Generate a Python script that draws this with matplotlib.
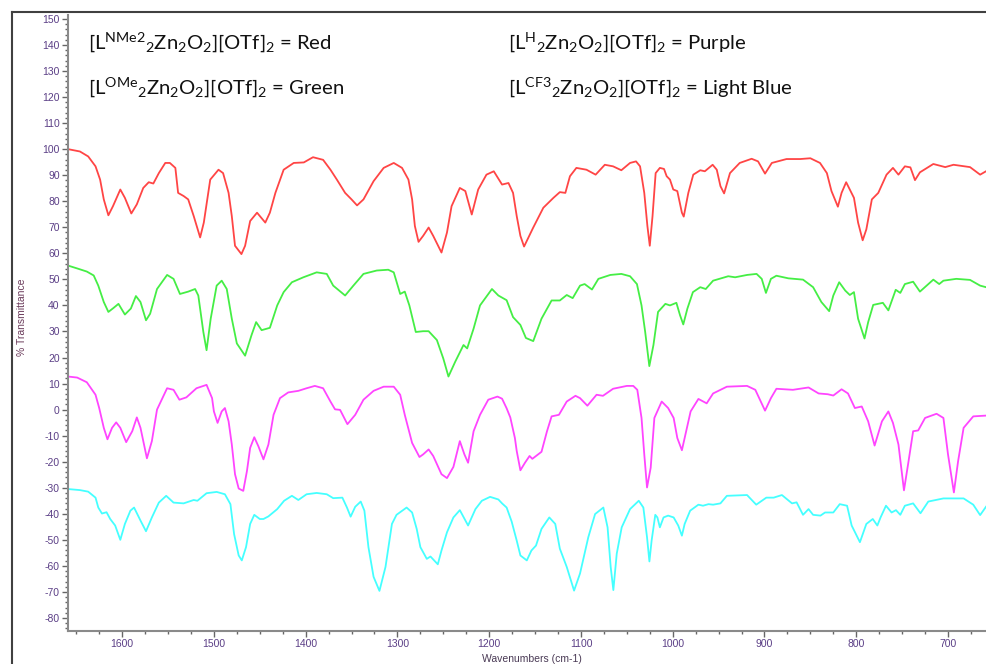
import matplotlib
matplotlib.use("Agg")
import matplotlib.pyplot as plt
from matplotlib.ticker import MultipleLocator
from matplotlib.lines import Line2D

plt.rcParams['axes.unicode_minus'] = False
plt.rcParams['mathtext.default'] = 'regular'

# ---------------- data (wavenumber cm-1, % transmittance) ----------------
red_wn = [1659, 1646, 1637, 1629, 1624, 1620, 1615, 1610, 1602, 1597, 1590, 1584, 1577, 1571, 1566, 1560,
          1553, 1548, 1542, 1539, 1533, 1528, 1522, 1515, 1511, 1504, 1495, 1490, 1484, 1480.5, 1477, 1470,
          1466, 1460.5, 1453, 1444, 1439, 1433, 1424, 1413, 1402, 1392, 1381, 1373, 1366, 1357, 1350, 1344,
          1337, 1326, 1315, 1304, 1295, 1288, 1284, 1281, 1277, 1272, 1266, 1261, 1252, 1246, 1241, 1232,
          1226, 1219, 1212, 1203, 1195, 1186, 1179, 1174, 1170, 1166, 1162, 1152, 1141, 1130, 1123, 1117,
          1112, 1105, 1094, 1084, 1074, 1065, 1056, 1046.5, 1040, 1035.6, 1031, 1027.6, 1025, 1022, 1018.6,
          1014, 1009.5, 1006.6, 1003, 999.4, 995, 990, 988, 983, 977.6, 970, 965, 956.5, 952, 948, 944,
          937.6, 927, 914, 907, 899.4, 892, 876, 861, 850, 839.5, 832, 827, 820, 816, 811, 807, 802.5, 798,
          793, 789, 783, 776, 767, 760, 754, 747, 741, 736, 730.6, 716, 703, 694, 676, 665, 658.6]
red_t = [100, 99.1, 97.2, 93.4, 88.3, 80.7, 74.6, 78.1, 84.5, 81.3, 75.3, 78.8, 85.1, 87.3, 86.8, 90.8,
         94.7, 94.7, 92.8, 83.2, 82, 80.7, 74.3, 66.1, 71.8, 88.3, 92.1, 90.8, 83.2, 74.3, 62.9, 59.7,
         62.9, 72.4, 75.6, 71.8, 75.6, 83.2, 92.1, 94.7, 94.9, 96.9, 95.9, 92.1, 88.3, 83.2, 80.7, 78.4,
         80.7, 87.7, 92.8, 94.7, 92.8, 88.3, 80.7, 70.5, 64.4, 66.7, 69.9, 66.7, 60.3, 68, 78.1, 85.1,
         83.9, 74.9, 84.5, 90.2, 91.5, 86.4, 87, 83.2, 74.3, 66.7, 62.6, 69.9, 77.5, 81.3, 83.5, 83.2,
         89.6, 92.8, 92.1, 90.2, 94, 93.4, 91.9, 94.7, 95.3, 93.4, 83.2, 70.5, 62.9, 74.3, 90.8,
         92.8, 92.4, 89.6, 88.3, 84.5, 83.9, 75.6, 74.1, 83.2, 90.2, 91.9, 91.5, 94, 92.1, 85.8, 83,
         90.8, 94.7, 96.3, 95.3, 90.6, 94.7, 96.2, 96.2, 96.5, 94.7, 90.8, 83.9, 77.9, 83.2, 87.3, 84.5, 81.3, 71.8,
         65, 69.2, 80.7, 83.2, 90.2, 92.8, 90.2, 93.4, 93, 88.1, 91.1, 94.3, 93.1, 94, 93.1, 90.2, 91.5]

green_wn = [1659, 1649, 1638.5, 1631, 1626, 1620, 1615, 1609.5, 1604, 1597, 1590.5, 1585, 1580, 1574, 1569.5,
            1562, 1551, 1544, 1537, 1528, 1520.5, 1517, 1511.5, 1508, 1503.5, 1497, 1491.5, 1486, 1480.5,
            1475, 1466, 1459, 1454, 1448, 1439, 1431, 1424, 1415, 1402.5, 1388, 1377, 1370, 1357, 1348,
            1337, 1322.5, 1310, 1304, 1297, 1292, 1287, 1280, 1272, 1266, 1257, 1250, 1244.4, 1237, 1228,
            1224, 1217, 1210, 1197, 1190, 1181, 1174, 1166, 1160, 1152, 1143, 1132, 1123, 1115.5, 1109,
            1101, 1096, 1088, 1081, 1068, 1056, 1046.5, 1039, 1034, 1030, 1025.5, 1021, 1016, 1008, 1003,
            996, 992, 988.5, 984, 978, 970, 964, 956, 939.5, 932, 919, 908.6, 903, 898.4, 893, 887, 874,
            858, 847, 838, 829.5, 825, 818.6, 812, 807, 802.5, 798, 791, 787, 781.5, 771, 765, 757, 752,
            747, 738, 730.6, 716, 709.6, 705, 691, 676, 665, 658.6]
green_t = [55.3, 54.2, 53, 51.5, 47.6, 41.3, 37.5, 39, 40.6, 36.5, 38.8, 43.6, 41.3, 34.3, 36.8,
           46.3, 51.7, 50.2, 44.4, 45.3, 46.3, 43.8, 29.8, 22.8, 34.9, 47.6, 49.5, 46.3, 34.9,
           25.4, 20.7, 28.6, 33.6, 30.5, 31.4, 40, 45.1, 48.9, 50.8, 52.7, 52.1, 47.6, 43.8, 47.6,
           52.1, 53.4, 53.7, 52.7, 44.4, 45.3, 40, 29.8, 30.1, 30.1, 26.7, 19.6, 12.7, 18.4, 24.8,
           23.5, 31.1, 40, 46.3, 43.8, 42, 35.5, 32.5, 27.5, 26.3, 34.9, 41.9, 41.9, 44, 42.8,
           47.6, 48.2, 46.1, 50.2, 51.7, 52.1, 51.2, 48.2, 40, 29.8, 16.7, 24.8, 37.5, 40.6, 40,
           41, 36.2, 32.7, 38.8, 45.1, 47, 46.3, 49.5, 51.2, 50.8, 51.7, 52.1, 50.2, 44.8, 50.2, 51.4, 50.4,
           49.9, 47, 41.3, 37.8, 43.8, 48.9, 45.7, 44, 45.1, 34.9, 27.3, 33.6, 40.2, 41, 38.1, 46, 44.8,
           48.2, 49.1, 45.3, 49.9, 48.2, 49.5, 50.2, 49.8, 47.6, 47]

purple_wn = [1659, 1649, 1638.5, 1629, 1625, 1620, 1616, 1611, 1606.5, 1602, 1595.6, 1589, 1584, 1580, 1573,
             1567.6, 1562, 1551, 1544, 1537.6, 1530, 1519, 1508, 1502, 1500, 1496, 1491.5, 1488, 1484,
             1480.5, 1477, 1473, 1468, 1464, 1460.5, 1456, 1451.5, 1446, 1440.6, 1435, 1428, 1419, 1408,
             1399, 1390, 1381, 1373, 1368, 1362.5, 1354.5, 1346, 1337, 1326, 1315, 1304, 1297, 1292, 1284,
             1276, 1272, 1266, 1261, 1252, 1246, 1239, 1232, 1227, 1223, 1217, 1210, 1201, 1191, 1186, 1181,
             1177, 1172, 1170, 1166, 1161, 1156, 1153, 1143, 1137, 1132, 1124, 1115.5, 1106, 1101, 1093,
             1083, 1076, 1065, 1050, 1043, 1038.6, 1034, 1031, 1028, 1024, 1020, 1012, 1005, 999, 995, 990,
             987, 980.5, 972, 963, 956, 941, 919, 910, 905, 899.4, 893, 887, 869, 852, 841, 831, 825, 816,
             809, 801.5, 794, 787, 780, 772, 765, 760, 754, 748, 743, 738, 732.5, 725, 712.5, 705, 700,
             693.6, 689, 683, 672.5, 658.6]
purple_t = [12.7, 12.3, 10.5, 5.7, 0.6, -7, -11.4, -7, -4.9, -7, -12.5, -8.3, -3, -7, -18.7,
            -12.1, 0, 8.2, 7.6, 3.8, 4.7, 8.2, 9.5, 4.4, -0.7, -5.1, -0.7, 0.6, -4.5,
            -13.4, -24.8, -30.3, -31.2, -23.6, -14.7, -10.6, -14.1, -19.1, -13.4, -2, 4.4, 6.6, 7.2,
            8.2, 9.1, 8.2, 3.1, 0.1, -0.1, -5.6, -2, 3.8, 7.2, 8.8, 8.8, 5.7, -2, -12.8,
            -18.2, -17.2, -15.3, -17.8, -24.8, -26.3, -22, -12.1, -17.2, -20.4, -8.3, -2, 3.8, 5, 4.2, 0.5,
            -3, -10.9, -15.9, -23.3, -20.4, -17.8, -18.9, -16.2, -8.3, -2.6, -2, 3.1, 5.3, 4.4, 1.5,
            5.7, 5.3, 8, 9.1, 9.1, 7.6, -3.2, -17.2, -29.9, -22.3, -3.2, 3.1, 0.6, -3.2, -10.9, -15.6,
            -10.9, -0.7, 4.1, 2.4, 6.2, 8.8, 9.1, 7.6, 3.8, -0.4, 4.4, 8, 7.6, 8.5, 6.2, 5.9, 5.4, 7.8,
            6.2, 0.6, 1.2, -4.5, -13.8, -4.5, -0.7, -5.1, -13.4, -31, -19.8, -8.3, -8, -3.2, -1.6, -3.2, -17.2,
            -31.8, -19.8, -7, -2.6, -2.3]

blue_wn = [1659, 1646, 1637, 1629, 1626, 1622, 1617, 1613, 1607.6, 1602, 1597, 1591, 1587, 1580, 1574,
           1567.6, 1560, 1552, 1544, 1533, 1522, 1518, 1508, 1497, 1488, 1482, 1478, 1473, 1469.6, 1465,
           1460.5, 1456, 1450, 1446, 1440.6, 1431, 1423.5, 1415, 1408, 1399, 1388, 1377, 1370, 1360, 1355,
           1351, 1346, 1340, 1336, 1331.6, 1326, 1319.6, 1313, 1306, 1301, 1290, 1284, 1279, 1275, 1268,
           1264, 1256, 1252, 1246, 1239, 1232, 1223, 1215, 1208, 1199, 1190, 1186, 1181, 1175.5, 1170,
           1166, 1159, 1154, 1149, 1143, 1134.5, 1128, 1123, 1115.5, 1107.5, 1101, 1092, 1084.6, 1075.6,
           1071, 1067.6, 1064.7, 1061, 1055.6, 1046.5, 1037, 1032, 1028, 1025.4, 1023, 1019, 1016.7, 1014,
           1010, 1005, 999, 994, 990, 987, 981, 972, 967, 961, 956, 948, 941, 919, 909, 898, 890, 881, 870,
           865, 858, 852, 847, 839, 834, 825, 818, 810, 805, 796, 789, 782, 777, 773.5, 767.6, 761.5,
           756.7, 752, 747, 738, 730, 721.5, 705, 683, 672.5, 665, 658.6]
blue_t = [-30.5, -30.9, -31.5, -33.8, -37.6, -39.9, -39.4, -42, -44.5, -50, -43.9, -38.8, -37.6, -42.6, -46.7,
          -41.4, -35.7, -33.1, -35.7, -36, -34.7, -35, -32.1, -31.6, -32.5, -36.3, -47.8, -56, -57.9, -52.8,
          -43.9, -40.4, -42, -42, -41, -38.2, -35, -33.1, -34.7, -32.5, -32, -32.5, -34, -33.8, -37.6,
          -41.1, -37.3, -35.3, -38.8, -52.8, -64.2, -69.6, -60.4, -43.9, -40.4, -37.6, -39.5, -45.8, -52.8, -57.3,
          -56.4, -59.4, -54.1, -47.1, -41.4, -38.6, -44.5, -38.2, -35, -33.5, -34.5, -36, -37.6, -43, -50.3,
          -56, -57.9, -54.1, -52.2, -45.8, -41.4, -43.9, -53.4, -60.4, -69.5, -62.9, -49, -40.1, -37.6,
          -45.2, -60.4, -69.3, -55.3, -45.2, -38.2, -35, -37.6, -49, -58.3, -50.3, -40.4, -41.4, -45.2,
          -41.4, -40.7, -41.4, -44.5, -48.4, -43.9, -38.8, -36.5, -36.9, -36.3, -36.5, -36, -33.1, -32.8, -36.5, -33.8, -33.8, -32.8, -36,
          -35.6, -40.4, -38.2, -40.4, -40.7, -39.5, -39.5, -36.3, -36.9, -44.5, -50.9, -43.9, -42, -44.5, -41.4, -36.9, -39.5,
          -38.6, -40.4, -36.9, -36, -39.8, -35.3, -34.1, -34.1, -36.5, -40.5, -37.3]

series = [
    (red_wn, red_t, '#ff4545'),
    (green_wn, green_t, '#45ee45'),
    (purple_wn, purple_t, '#ff45ff'),
    (blue_wn, blue_t, '#45ffff'),
]

labels_left = [r'[L$^{NMe2}$$_{2}$Zn$_{2}$O$_{2}$][OTf]$_{2}$ = Red',
               r'[L$^{OMe}$$_{2}$Zn$_{2}$O$_{2}$][OTf]$_{2}$ = Green']
labels_right = [r'[L$^{H}$$_{2}$Zn$_{2}$O$_{2}$][OTf]$_{2}$ = Purple',
                r'[L$^{CF3}$$_{2}$Zn$_{2}$O$_{2}$][OTf]$_{2}$ = Light Blue']

x_label = 'Wavenumbers (cm-1)'
y_label = '% Transmittance'

# ---------------- figure ----------------
W, H = 986, 664
fig = plt.figure(figsize=(W / 100, H / 100), dpi=100)
ax = fig.add_axes([68 / W, 1 - 631 / H, (W - 68) / W, (631 - 15) / H])

for wn, t, c in series:
    ax.plot(wn, t, color=c, lw=1.3, solid_joinstyle='round')

ax.set_xlim(1659, 658.6)
ax.set_ylim(-85, 151.5)

ax.xaxis.set_major_locator(MultipleLocator(100))
ax.xaxis.set_minor_locator(MultipleLocator(25))
ax.yaxis.set_major_locator(MultipleLocator(10))
ax.yaxis.set_minor_locator(MultipleLocator(2))

tick_color = '#5b3f86'
ax.tick_params(axis='both', which='major', direction='out', length=4, width=1.0,
               color='#666666', labelsize=7.5, labelcolor=tick_color, pad=2)
ax.tick_params(axis='both', which='minor', direction='out', length=2, width=1.0, color='#666666')
for lab in ax.get_xticklabels() + ax.get_yticklabels():
    lab.set_family('Liberation Sans')

for s in ['top', 'right']:
    ax.spines[s].set_visible(False)
for s in ['left', 'bottom']:
    ax.spines[s].set_color('#8a8a8a')
    ax.spines[s].set_linewidth(1.5)

ax.set_xlabel(x_label, fontsize=7.5, family='Liberation Sans', color='#4a3a55')
ax.xaxis.set_label_coords(0.505, -0.037)
ax.set_ylabel(y_label, fontsize=7.5, family='Liberation Sans', color='#6a3a5a')
ax.yaxis.set_label_coords(-0.045, 0.51)

# legend-like annotation texts
for i, s in enumerate(labels_left):
    fig.text(88 / W, 1 - (42 + 45 * i) / H, s, fontsize=14.6, family='Lato',
             ha='left', va='center', color='#111111')
for i, s in enumerate(labels_right):
    fig.text(508 / W, 1 - (42 + 45 * i) / H, s, fontsize=14.6, family='Lato',
             ha='left', va='center', color='#111111')

# outer frame
fig.add_artist(Line2D([12 / W, 12 / W], [0, 1 - 12 / H], transform=fig.transFigure,
                      color='#404040', lw=1.5))
fig.add_artist(Line2D([12 / W, 1], [1 - 12 / H, 1 - 12 / H], transform=fig.transFigure,
                      color='#404040', lw=1.5))

fig.savefig('out.png', dpi=100)
